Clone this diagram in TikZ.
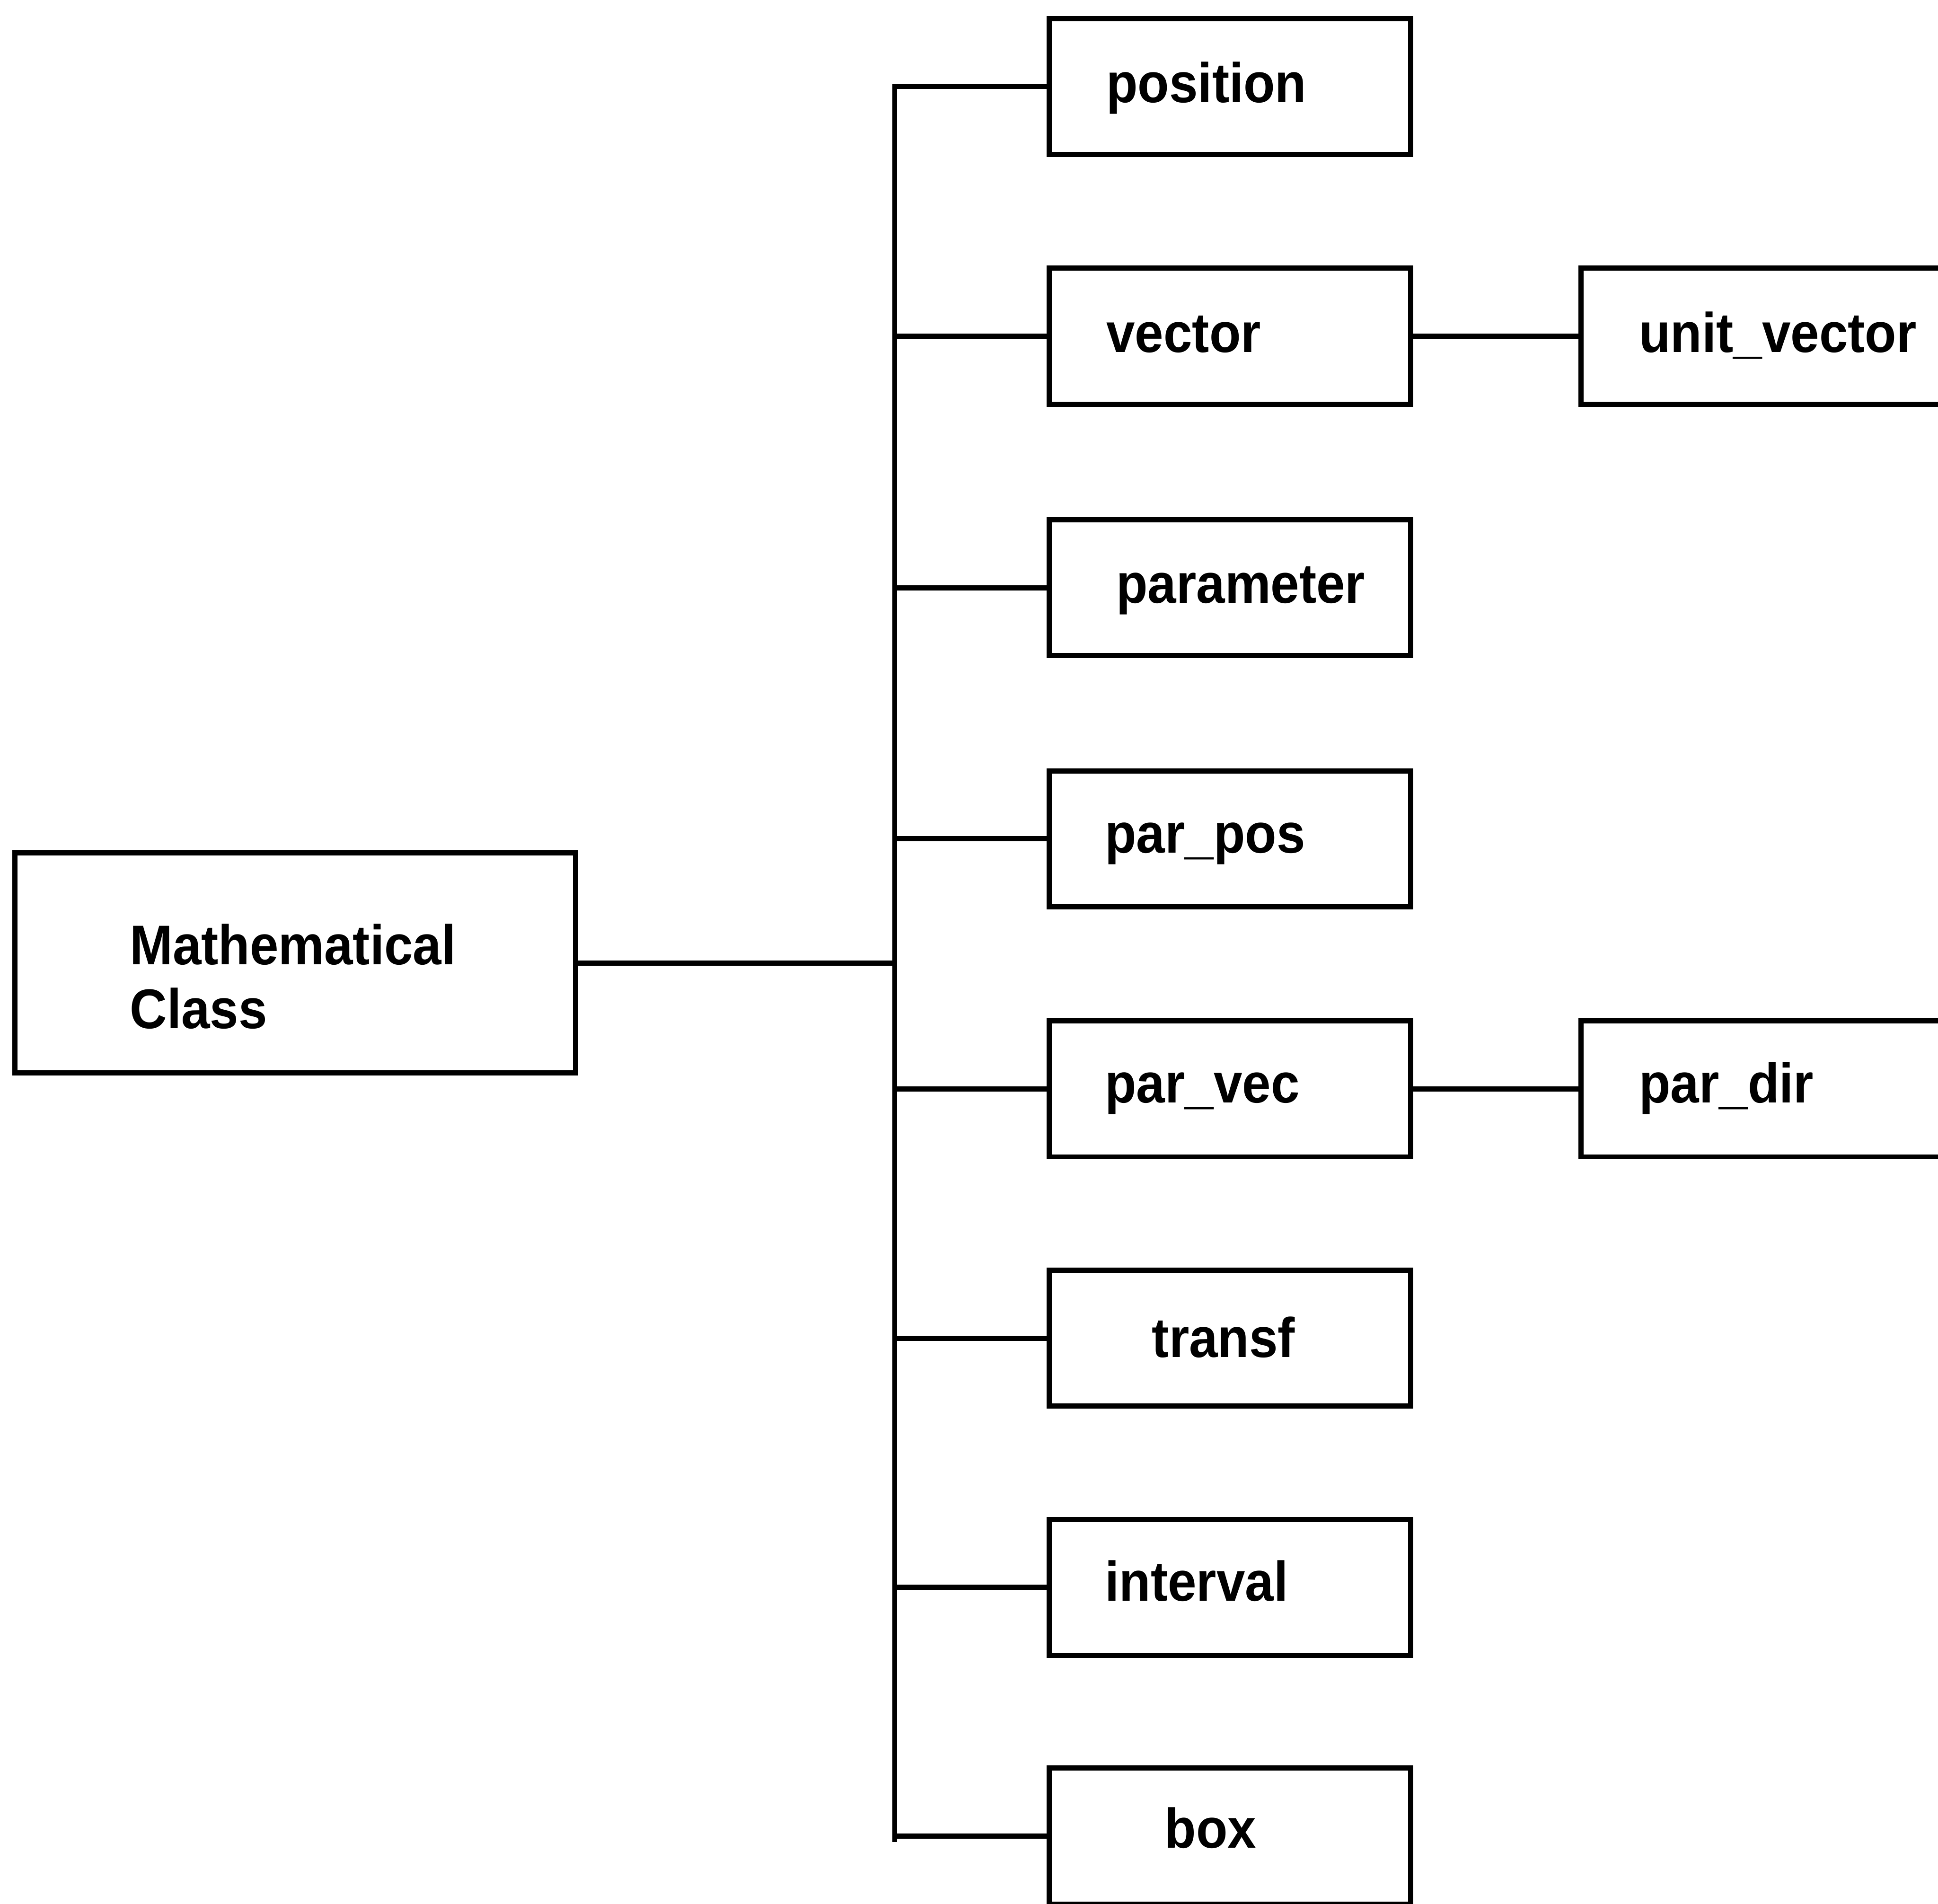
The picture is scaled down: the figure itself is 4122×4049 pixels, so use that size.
\documentclass[tikz,border=0pt]{standalone}
\usepackage{fontspec}
\newfontfamily\lbl{Liberation Sans Bold}[FakeStretch=0.92]
\begin{document}
\begin{tikzpicture}[x=1pt,y=-1pt,
  lw/.style={line width=11pt},
  classbox/.style={draw,lw,rectangle,inner sep=0pt,minimum width=768pt,minimum height=289pt},
  mainbox/.style={draw,lw,rectangle,inner sep=0pt,minimum width=1193pt,minimum height=468pt},
  txt/.style={anchor=base west,inner sep=0pt,font=\lbl\fontsize{119}{137}\selectfont},
  link/.style={lw,line cap=rect}]
\useasboundingbox (0,0) rectangle (4122,4049);
\clip (0,0) rectangle (4122,4049);

% root class
\node[mainbox] (math) at (628,2048) {};
\node[txt] (tmath) at (276,2051) {Mathematical};
\node[txt] (tclass) at (276,2187) {Class};

% derived classes
\node[classbox] (position)  at (2616,184)  {};
\node[classbox] (vector)    at (2616,715)  {};
\node[classbox] (parameter) at (2616,1250) {};
\node[classbox] (parpos)    at (2616,1784) {};
\node[classbox] (parvec)    at (2616,2316) {};
\node[classbox] (transf)    at (2616,2846) {};
\node[classbox] (interval)  at (2616,3376) {};
\node[classbox] (box)       at (2616,3905) {};

\node[classbox] (unitvec) at (3747,715)  {};
\node[classbox] (pardir)  at (3747,2316) {};

% labels
\node[txt] (tposition)  at (2353,218)  {position};
\node[txt] (tvector)    at (2353,749)  {vector};
\node[txt] (tparameter) at (2374,1283) {parameter};
\node[txt] (tparpos)    at (2350,1814) {par\_pos};
\node[txt] (tparvec)    at (2350,2345) {par\_vec};
\node[txt] (ttransf)    at (2450,2887) {transf};
\node[txt] (tinterval)  at (2350,3405) {interval};
\node[txt] (tbox)       at (2477,3930) {box};
\node[txt] (tunitvec)   at (3486,749)  {unit\_vector};
\node[txt] (tpardir)    at (3486,2345) {par\_dir};

% bus
\coordinate (bustop) at (1903,192);
\coordinate (busbot) at (1903,3912);
\draw[link] (bustop) -- (busbot);
\draw[link] (math.east) -- (math.east -| bustop);
\foreach \n in {position,vector,parameter,parpos,parvec,transf,interval,box}
  \draw[link] (\n.west -| bustop) -- (\n.west);

% second level
\draw[link] (vector.east) -- (unitvec.west);
\draw[link] (parvec.east) -- (pardir.west);
\end{tikzpicture}
\end{document}
